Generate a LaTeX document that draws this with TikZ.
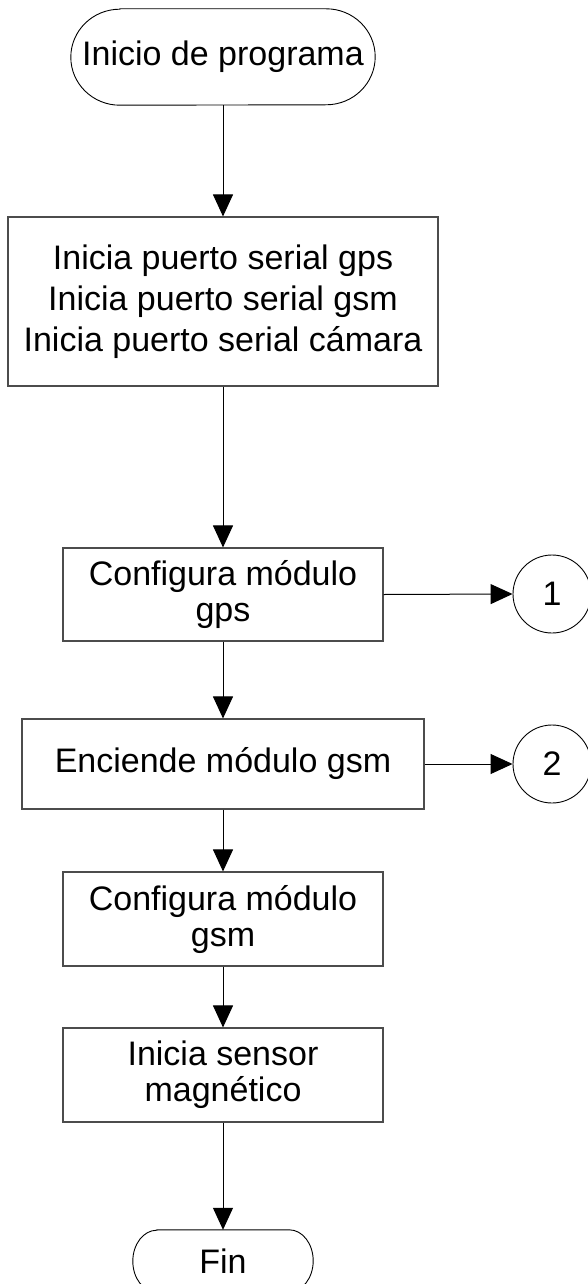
\documentclass[tikz,border=0pt]{standalone}
\usepackage{fontspec}
\setmainfont{Liberation Sans}
\usetikzlibrary{arrows.meta}
\begin{document}
\begin{tikzpicture}[x=1pt,y=-1pt,
  every node/.style={font=\fontsize{34}{36}\selectfont, align=center, inner sep=0pt},
  widelines/.style={font=\fontsize{34}{41}\selectfont},
  procbox/.style={draw=black!70, line width=1.1pt, minimum width=#1, rectangle},
  termnode/.style={minimum width=#1},
  conn/.style={draw=black, line width=1pt, -{Triangle[length=22pt,width=20pt]}},
  outline/.style={draw=black, line width=0.9pt},
  conncirc/.style={circle, draw=black, line width=0.9pt, minimum size=78pt}]
\useasboundingbox (0,0) rectangle (587,1284);
% nodes
\node[termnode=304pt, minimum height=96pt] (start) at (223,57) {Inicio de programa};
\node[procbox=430pt, minimum height=169pt, widelines] (b2) at (223,301.5)
  {Inicia puerto serial gps\\Inicia puerto serial gsm\\Inicia puerto serial cámara};
\node[procbox=320pt, minimum height=93pt] (b3) at (223,594.5) {Configura módulo\\gps};
\node[procbox=402pt, minimum height=90pt] (b4) at (223,764) {Enciende módulo gsm};
\node[procbox=320pt, minimum height=94pt] (b5) at (223,919) {Configura módulo\\gsm};
\node[procbox=320pt, minimum height=94pt] (b6) at (223,1075) {Inicia sensor\\magnético};
\node[termnode=180pt, minimum height=62pt] (fin) at (223,1261) {Fin};
\node[conncirc] (c1) at (552,594) {1};
\node[conncirc] (c2) at (552,764) {2};
% terminal outlines (half-ellipse ends)
\draw[outline] ([xshift=49pt]start.north west) -- ([xshift=-49pt]start.north east)
  arc[start angle=90, end angle=-90, x radius=49pt, y radius=48pt]
  -- ([xshift=49pt]start.south west)
  arc[start angle=270, end angle=90, x radius=49pt, y radius=48pt] -- cycle;
\draw[outline] ([xshift=24pt]fin.north west) -- ([xshift=-24pt]fin.north east)
  arc[start angle=90, end angle=-90, x radius=24pt, y radius=31pt]
  -- ([xshift=24pt]fin.south west)
  arc[start angle=270, end angle=90, x radius=24pt, y radius=31pt] -- cycle;
% connectors
\draw[conn] (start.south) -- (b2.north);
\draw[conn] (b2.south) -- (b3.north);
\draw[conn] (b3.south) -- (b4.north);
\draw[conn] (b4.south) -- (b5.north);
\draw[conn] (b5.south) -- (b6.north);
\draw[conn] (b6.south) -- (fin.north);
\draw[conn] (b3.east) -- (c1.west);
\draw[conn] (b4.east) -- (c2.west);
\end{tikzpicture}
\end{document}
